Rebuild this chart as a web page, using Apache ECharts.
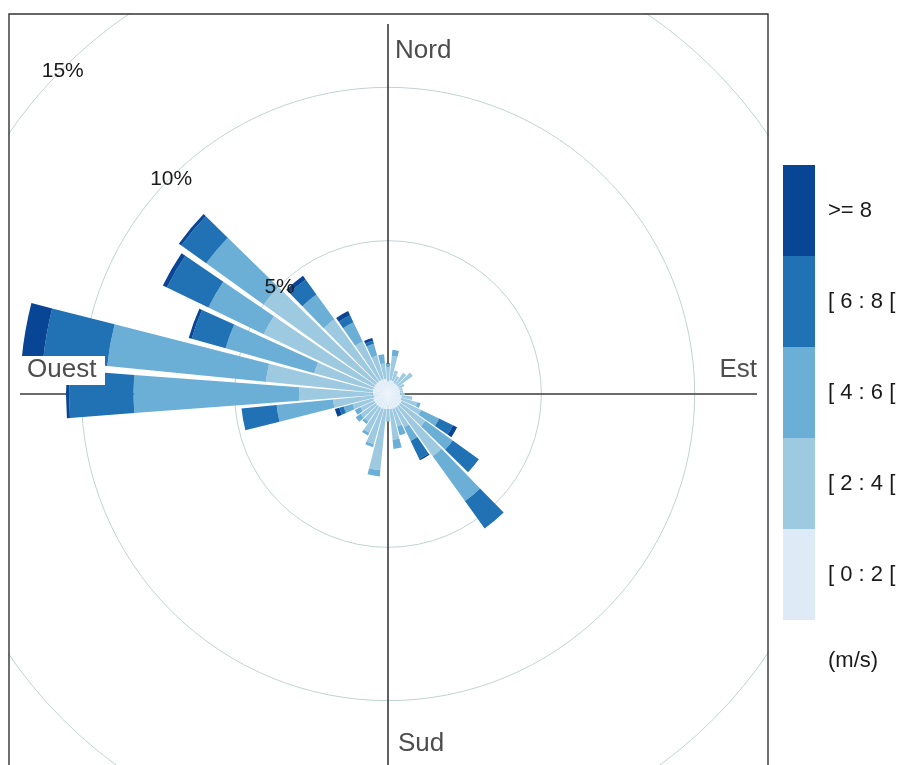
<!DOCTYPE html>
<html>
<head>
<meta charset="utf-8">
<script src="https://cdn.jsdelivr.net/npm/echarts@6/dist/echarts.min.js"></script>
<style>
  html, body { margin: 0; padding: 0; background: #fff; }
  #main { width: 903px; height: 765px; }
</style>
</head>
<body>
<div id="main"></div>
<script>
// wind directions, degrees from north (10 degree sectors)
const directions = [0, 10, 20, 30, 40, 50, 60, 70, 80, 90, 100, 110,
  120, 130, 140, 150, 160, 170, 180, 190, 200, 210, 220, 230,
  240, 250, 260, 270, 280, 290, 300, 310, 320, 330, 340, 350];

// frequency (%) per direction for each wind speed band
const speed0to2 = [0.45, 0.45, 0.45, 0.4, 0.4, 0.4, 0.4, 0.4, 0.4, 0.4, 0.45, 0.45,
  0.5, 0.5, 0.5, 0.5, 0.5, 0.5, 0.5, 0.5, 0.5, 0.5, 0.5, 0.5,
  0.5, 0.5, 0.45, 0.5, 0.5, 0.5, 0.5, 0.5, 0.5, 0.5, 0.5, 0.5];
const speed2to4 = [0.45, 0.8, 0.35, 0.25, 0.45, 0.6, 0.2, 0.1, 0.1, 0.15, 0.35, 0.55,
  0.7, 1.0, 2.0, 0.7, 0.6, 1.0, 0.4, 2.0, 1.2, 0.9, 0.6, 0.6,
  0.5, 0.7, 1.35, 2.4, 3.5, 2.0, 4.0, 4.5, 2.5, 1.4, 0.8, 0.5];
const speed4to6 = [0.1, 0.2, 0, 0, 0, 0, 0, 0, 0, 0, 0, 0.1,
  0.65, 1.1, 1.8, 0.5, 0.3, 0.3, 0, 0.2, 0.1, 0.1, 0.1, 0.2,
  0.2, 0.3, 1.85, 5.4, 5.2, 3.0, 2.0, 2.3, 1.0, 0.7, 0.4, 0.3];
const speed6to8 = [0, 0, 0, 0, 0, 0, 0, 0, 0, 0, 0, 0,
  0.5, 1.05, 1.1, 0.65, 0, 0, 0, 0, 0, 0, 0, 0,
  0, 0.15, 1.15, 2.1, 2.1, 1.15, 1.5, 1.0, 0.6, 0.25, 0.1, 0];
const speed8plus = [0, 0, 0, 0, 0, 0, 0, 0, 0, 0, 0, 0,
  0.15, 0, 0, 0.05, 0, 0, 0, 0, 0, 0, 0, 0,
  0, 0.15, 0, 0.1, 0.7, 0.1, 0.15, 0.1, 0.15, 0.15, 0.1, 0];

const bandNames = ['[ 0 : 2 [', '[ 2 : 4 [', '[ 4 : 6 [', '[ 6 : 8 [', '>= 8'];
const bandValues = [speed0to2, speed2to4, speed4to6, speed6to8, speed8plus];
const bandColors = ['#deebf7', '#9ecae1', '#6baed6', '#2171b5', '#084594'];

const radiusTicks = [5, 10, 15];
const tickLabels = ['5%', '10%', '15%'];

const FONT = '"Liberation Sans", Arial, sans-serif';
const center = [388, 394];
const radiusPx = 460;
const radiusMax = 15;

const chart = echarts.init(document.getElementById('main'));

// percent labels sit on the circles, toward the north-west
const pctLabels = radiusTicks.map((v, i) => {
  const r = v / radiusMax * radiusPx;
  const a = 315 * Math.PI / 180;
  return {
    type: 'text', z: 12,
    style: {
      text: tickLabels[i], x: center[0] + r * Math.sin(a), y: center[1] - r * Math.cos(a) + 2,
      textAlign: 'center', textVerticalAlign: 'middle',
      font: '21px ' + FONT, fill: '#1a1a1a'
    }
  };
});

// compass cross, drawn under the bars and left open at the very centre
const hole = 12;
const crossStyle = { stroke: '#3a3a3a', lineWidth: 1.6 };
const cross = [
  [center[0], 24, center[0], center[1] - hole],
  [center[0], center[1] + hole, center[0], 765],
  [20, center[1], center[0] - hole, center[1]],
  [center[0] + hole, center[1], 757, center[1]]
].map(p => ({ type: 'line', z: 1, shape: { x1: p[0], y1: p[1], x2: p[2], y2: p[3] }, style: crossStyle }));

chart.setOption({
  animation: false,
  polar: { center: center, radius: radiusPx },
  angleAxis: {
    type: 'category',
    data: directions.map(String),
    startAngle: 95,
    clockwise: true,
    axisLine: { show: false },
    axisTick: { show: false },
    axisLabel: { show: false },
    splitLine: { show: false }
  },
  radiusAxis: {
    type: 'value',
    min: 0,
    max: radiusMax,
    interval: 5,
    z: 0,
    axisLine: { show: false },
    axisTick: { show: false },
    axisLabel: { show: false },
    splitLine: { show: true, lineStyle: { color: '#c3d2d2', width: 1 } }
  },
  legend: {
    orient: 'vertical',
    left: 783,
    top: 165,
    padding: 0,
    itemWidth: 32,
    itemHeight: 91,
    itemGap: 0,
    icon: 'rect',
    selectedMode: false,
    z: 20,
    data: bandNames.slice().reverse(),
    textStyle: { fontFamily: FONT, fontSize: 22, color: '#1a1a1a', padding: [0, 0, 0, 8] }
  },
  series: bandNames.map((name, i) => ({
    name: name,
    type: 'bar',
    coordinateSystem: 'polar',
    stack: 'wind',
    z: 6,
    data: bandValues[i],
    barCategoryGap: '14%',
    itemStyle: { color: bandColors[i] },
    silent: true
  })),
  graphic: cross.concat([
    // keep grid circles inside the panel
    { type: 'rect', z: 8, shape: { x: 0, y: 0, width: 903, height: 13 }, style: { fill: '#fff' } },
    { type: 'rect', z: 8, shape: { x: 0, y: 0, width: 8, height: 765 }, style: { fill: '#fff' } },
    { type: 'rect', z: 8, shape: { x: 769, y: 0, width: 134, height: 765 }, style: { fill: '#fff' } },
    { type: 'rect', z: 9, shape: { x: 9, y: 14, width: 759, height: 800 }, style: { fill: 'none', stroke: '#333', lineWidth: 1.4 } },
    // compass labels
    { type: 'text', z: 12, style: { text: 'Nord', x: 395, y: 51, textVerticalAlign: 'middle', font: '26px ' + FONT, fill: '#4d4d4d' } },
    { type: 'text', z: 12, style: { text: 'Sud', x: 398, y: 744, textVerticalAlign: 'middle', font: '26px ' + FONT, fill: '#4d4d4d' } },
    { type: 'text', z: 12, style: { text: 'Est', x: 757, y: 370, textAlign: 'right', textVerticalAlign: 'middle', font: '26px ' + FONT, fill: '#4d4d4d' } },
    { type: 'rect', z: 11, shape: { x: 22, y: 356, width: 83, height: 29 }, style: { fill: '#fff' } },
    { type: 'text', z: 12, style: { text: 'Ouest', x: 27, y: 370, textVerticalAlign: 'middle', font: '26px ' + FONT, fill: '#4d4d4d' } },
    // legend unit
    { type: 'text', z: 21, style: { text: '(m/s)', x: 828, y: 661, textVerticalAlign: 'middle', font: '22px ' + FONT, fill: '#1a1a1a' } }
  ], pctLabels)
});
</script>
</body>
</html>
